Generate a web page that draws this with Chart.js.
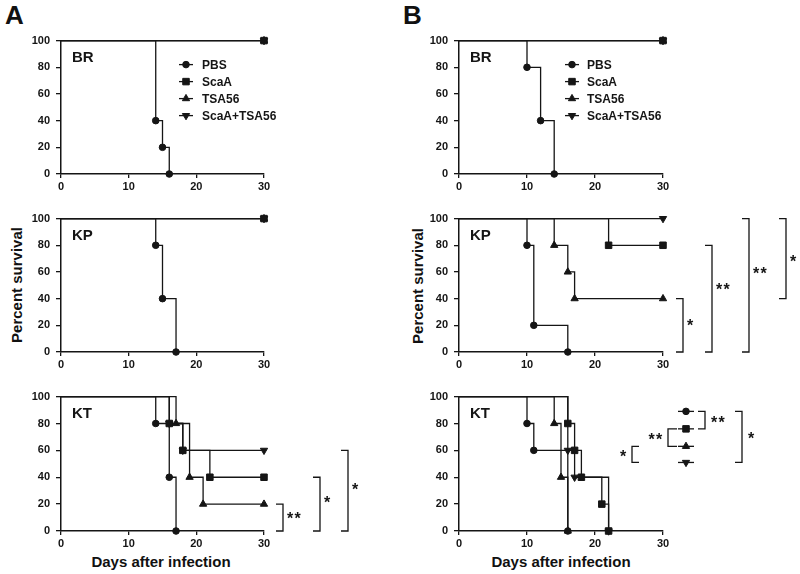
<!DOCTYPE html>
<html><head><meta charset="utf-8">
<script src="https://cdn.jsdelivr.net/npm/chart.js@4.4.0/dist/chart.umd.min.js"></script>
<style>
html,body{margin:0;padding:0;background:#fff;}
#wrap{position:relative;width:800px;height:574px;overflow:hidden;font-family:"Liberation Sans",Arial,sans-serif;color:#111;}
canvas{position:absolute;}
.t{position:absolute;font-weight:bold;line-height:1;white-space:nowrap;}
.rot{transform:translate(-50%,-50%) rotate(-90deg);}
</style></head><body><div id="wrap">
<div class="t" style="left:5px;top:2px;font-size:26px;">A</div>
<div class="t" style="left:403px;top:2px;font-size:26px;">B</div>
<div class="t rot" style="left:16px;top:285px;font-size:15px;">Percent survival</div>
<div class="t rot" style="left:417px;top:286px;font-size:15px;">Percent survival</div>
<div class="t" style="left:60px;width:202px;text-align:center;top:554px;font-size:15px;">Days after infection</div>
<div class="t" style="left:459px;width:204px;text-align:center;top:554px;font-size:15px;">Days after infection</div>
</div>
<script>
// ---------- DATA ----------
const groups = ['PBS', 'ScaA', 'TSA56', 'ScaA+TSA56'];
const xTicks = [0, 10, 20, 30];
const yTicks = [0, 20, 40, 60, 80, 100];

// [day, percent survival] at each step (Kaplan-Meier)
const A_BR_PBS   = [[0,100],[14,40],[15,20],[16,0]];
const A_BR_ScaA  = [[0,100],[30,100]];
const A_BR_TSA56 = [[0,100],[30,100]];
const A_BR_Combo = [[0,100],[30,100]];

const A_KP_PBS   = [[0,100],[14,80],[15,40],[17,0]];
const A_KP_ScaA  = [[0,100],[30,100]];
const A_KP_TSA56 = [[0,100],[30,100]];
const A_KP_Combo = [[0,100],[30,100]];

const A_KT_PBS   = [[0,100],[14,80],[16,40],[17,0]];
const A_KT_ScaA  = [[0,100],[16,80],[18,60],[22,40],[30,40]];
const A_KT_TSA56 = [[0,100],[17,80],[19,40],[21,20],[30,20]];
const A_KT_Combo = [[0,100],[16,80],[18,60],[30,60]];

const B_BR_PBS   = [[0,100],[10,80],[12,40],[14,0]];
const B_BR_ScaA  = [[0,100],[30,100]];
const B_BR_TSA56 = [[0,100],[30,100]];
const B_BR_Combo = [[0,100],[30,100]];

const B_KP_PBS   = [[0,100],[10,80],[11,20],[16,0]];
const B_KP_ScaA  = [[0,100],[22,80],[30,80]];
const B_KP_TSA56 = [[0,100],[14,80],[16,60],[17,40],[30,40]];
const B_KP_Combo = [[0,100],[30,100]];

const B_KT_PBS   = [[0,100],[10,80],[11,60],[16,0]];
const B_KT_ScaA  = [[0,100],[16,80],[17,60],[18,40],[21,20],[22,0]];
const B_KT_TSA56 = [[0,100],[14,80],[15,40],[16,0]];
const B_KT_Combo = [[0,100],[16,60],[17,40],[22,0]];

// significance brackets: [low %, high %, label]
const A_KT_sig = [[0,20,'**'],[0,40,'*'],[0,60,'*']];
const B_KP_sig = [[0,40,'*'],[0,80,'**'],[0,100,'**'],[40,100,'*']];
// pairwise comparisons for B KT: [group, group, label]
const B_KT_pairs = [['PBS','ScaA','**'],['ScaA','TSA56','**'],['TSA56','ScaA+TSA56','*'],['PBS','ScaA+TSA56','*']];

// ---------- STYLE ----------
const INK = '#151515';
const FONT = '"Liberation Sans", Arial, sans-serif';
const M = [
  {style:'circle',   r:3.3, rot:0},
  {style:'rect',     r:4.6, rot:0},
  {style:'triangle', r:4.2, rot:0},
  {style:'triangle', r:4.2, rot:180}
];
// bracket placement: dx = px right of plot, ly = label centre (in % units)
const A_KT_sigPos = [{dx:19, ly:12.5},{dx:56, ly:24},{dx:84, ly:34}];
const B_KP_sigPos = [{dx:20, ly:23},{dx:49, ly:50},{dx:86, ly:62},{dx:123, ly:71}];
const B_KT_keyPos = {dx:23, ys:[89,76,63,51]};
const B_KT_pairPos = [{side:'R',vx:42,arm:7},{side:'L',vx:5,arm:9},{side:'L',vx:-31,arm:7},{side:'R',vx:79,arm:7}];

function drawMarker(ctx, m, x, y){
  ctx.beginPath();
  if (m.style === 'circle') ctx.arc(x, y, m.r, 0, Math.PI*2);
  else if (m.style === 'rect') { const s = m.r*Math.SQRT1_2; ctx.rect(x-s, y-s, 2*s, 2*s); }
  else {
    let a = m.rot*Math.PI/180;
    for (let k=0;k<3;k++){ const px=x+Math.sin(a)*m.r, py=y-Math.cos(a)*m.r; k?ctx.lineTo(px,py):ctx.moveTo(px,py); a+=2*Math.PI/3; }
    ctx.closePath();
  }
  ctx.fill(); ctx.stroke();
}
function drawStars(ctx, label, x, yc, align){
  ctx.font = 'bold 16px ' + FONT;
  ctx.textBaseline = 'alphabetic';
  ctx.textAlign = 'left';
  const step = 7.5;
  const w = (label.length-1)*step + 7;
  let x0 = align === 'right' ? x - w : x;
  for (let i=0;i<label.length;i++) ctx.fillText('*', x0 + i*step, yc + 9.5);
}

function makePanel(opt){
  const wrap = document.getElementById('wrap');
  const cv = document.createElement('canvas');
  cv.width = 400; cv.height = opt.h;
  cv.style.left = opt.left + 'px'; cv.style.top = opt.top + 'px';
  cv.style.width = '400px'; cv.style.height = opt.h + 'px';
  wrap.appendChild(cv);

  const tickFont = {family: FONT, size: 11, weight: 'bold'};
  const annot = {
    id: 'annot',
    afterDatasetsDraw(chart){
      const ctx = chart.ctx, a = chart.chartArea;
      const ys = chart.scales.y;
      ctx.save();
      ctx.fillStyle = INK; ctx.strokeStyle = INK; ctx.lineWidth = 1.3;
      // panel name
      ctx.font = 'bold 15px ' + FONT; ctx.textAlign = 'left'; ctx.textBaseline = 'alphabetic';
      ctx.fillText(opt.name, a.left + 11, a.top + 21);
      // legend
      if (opt.legendX){
        groups.forEach((g, i) => {
          const y = a.top + 24 + i*17, mx = a.left + opt.legendX;
          ctx.lineWidth = 1.3;
          ctx.beginPath(); ctx.moveTo(mx-7, y); ctx.lineTo(mx+7, y); ctx.stroke();
          ctx.lineWidth = 1; drawMarker(ctx, M[i], mx, y);
          ctx.font = 'bold 12px ' + FONT; ctx.textBaseline = 'middle'; ctx.textAlign = 'left';
          ctx.fillText(g, a.left + opt.textX, y + 1);
        });
      }
      // brackets
      if (opt.sig){
        opt.sig.forEach((s, i) => {
          const p = opt.sigPos[i];
          const vx = a.right + p.dx, y1 = ys.getPixelForValue(s[0]), y2 = ys.getPixelForValue(s[1]);
          ctx.lineWidth = 1.3;
          ctx.beginPath(); ctx.moveTo(vx-7, y2); ctx.lineTo(vx, y2); ctx.lineTo(vx, y1); ctx.lineTo(vx-7, y1); ctx.stroke();
          drawStars(ctx, s[2], vx + 4, ys.getPixelForValue(p.ly), 'left');
        });
      }
      // key with pairwise brackets
      if (opt.pairs){
        const kx = a.right + B_KT_keyPos.dx;
        const ky = B_KT_keyPos.ys.map(v => ys.getPixelForValue(v));
        groups.forEach((g, i) => {
          ctx.lineWidth = 1.3;
          ctx.beginPath(); ctx.moveTo(kx-8, ky[i]); ctx.lineTo(kx+8, ky[i]); ctx.stroke();
          ctx.lineWidth = 1; drawMarker(ctx, M[i], kx, ky[i]);
        });
        opt.pairs.forEach((pr, i) => {
          const p = B_KT_pairPos[i];
          const ya = ky[groups.indexOf(pr[0])], yb = ky[groups.indexOf(pr[1])];
          const vx = a.right + p.vx, d = p.side === 'R' ? -p.arm : p.arm;
          ctx.lineWidth = 1.3;
          ctx.beginPath(); ctx.moveTo(vx+d, ya); ctx.lineTo(vx, ya); ctx.lineTo(vx, yb); ctx.lineTo(vx+d, yb); ctx.stroke();
          const mid = (ya+yb)/2 - 2;
          if (p.side === 'R') drawStars(ctx, pr[2], vx + 6, mid, 'left');
          else drawStars(ctx, pr[2], vx - 5, mid, 'right');
        });
      }
      ctx.restore();
    }
  };

  new Chart(cv, {
    type: 'line',
    data: {
      datasets: opt.series.map((pts, i) => ({
        label: groups[i],
        data: pts.map(p => ({x: p[0], y: p[1]})),
        stepped: 'before',
        borderColor: INK, borderWidth: 1.3,
        pointStyle: M[i].style, pointRotation: M[i].rot,
        pointRadius: c => c.dataIndex === 0 ? 0 : M[i].r,
        pointHoverRadius: 0,
        pointBackgroundColor: INK, pointBorderColor: INK, pointBorderWidth: 1,
        fill: false, tension: 0, clip: false
      }))
    },
    options: {
      responsive: false, animation: false, devicePixelRatio: 1,
      events: [],
      layout: {padding: {left: opt.padL, right: opt.padR, top: 10, bottom: 2}},
      plugins: {legend: {display: false}, tooltip: {enabled: false}},
      scales: {
        x: {
          type: 'linear', min: 0, max: 30,
          afterBuildTicks: s => { s.ticks = xTicks.map(v => ({value: v})); },
          afterFit: s => { s.height = 24; },
          ticks: {font: tickFont, color: INK, padding: 2, maxRotation: 0, autoSkip: false},
          grid: {drawOnChartArea: false, drawTicks: true, tickLength: 4, color: INK, lineWidth: 1.3},
          border: {display: true, color: INK, width: 1.5}
        },
        y: {
          type: 'linear', min: 0, max: 100,
          afterBuildTicks: s => { s.ticks = yTicks.map(v => ({value: v})); },
          afterFit: s => { s.width = 40; },
          ticks: {font: tickFont, color: INK, padding: 6, autoSkip: false},
          grid: {drawOnChartArea: false, drawTicks: true, tickLength: 5, color: INK, lineWidth: 1.3},
          border: {display: true, color: INK, width: 1.5}
        }
      }
    },
    plugins: [annot]
  });
}

const rows = [{name:'BR', top:28, h:172}, {name:'KP', top:206, h:172}, {name:'KT', top:384, h:173}];
const A_cfg = {left:0, padL:21, padR:136};
const B_cfg = {left:400, padL:19, padR:137};

makePanel(Object.assign({}, A_cfg, rows[0], {series:[A_BR_PBS, A_BR_ScaA, A_BR_TSA56, A_BR_Combo], legendX:125, textX:141}));
makePanel(Object.assign({}, A_cfg, rows[1], {series:[A_KP_PBS, A_KP_ScaA, A_KP_TSA56, A_KP_Combo]}));
makePanel(Object.assign({}, A_cfg, rows[2], {series:[A_KT_PBS, A_KT_ScaA, A_KT_TSA56, A_KT_Combo], sig:A_KT_sig, sigPos:A_KT_sigPos}));
makePanel(Object.assign({}, B_cfg, rows[0], {series:[B_BR_PBS, B_BR_ScaA, B_BR_TSA56, B_BR_Combo], legendX:113, textX:128}));
makePanel(Object.assign({}, B_cfg, rows[1], {series:[B_KP_PBS, B_KP_ScaA, B_KP_TSA56, B_KP_Combo], sig:B_KP_sig, sigPos:B_KP_sigPos}));
makePanel(Object.assign({}, B_cfg, rows[2], {series:[B_KT_PBS, B_KT_ScaA, B_KT_TSA56, B_KT_Combo], pairs:B_KT_pairs}));
</script>
</body></html>
